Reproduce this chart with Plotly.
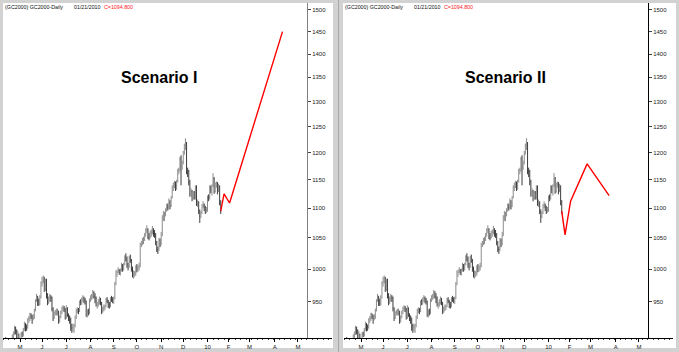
import plotly.graph_objects as go
import math

# ---------------- data ----------------
# trading-day index (0 = 1 May 2009); bars run 14 Apr 2009 .. 21 Jan 2010
first_day = -13
bar_open = [896,893,886,870,868,887,888,900,904,912,908,893,903,
 884,888,904,903,910,918,914,913,924,926,932,929,926,928,938,952,958,951,948,957,
 978,981,986,969,982,960,951,955,957,956,940,927,934,934,935,936,921,928,935,940,941,939,
 927,941,931,928,923,915,912,913,915,927,937,938,937,951,950,954,955,953,951,931,936,934,
 952,956,959,964,958,956,946,947,949,954,949,937,940,943,944,953,951,946,945,956,955,
 953,955,977,995,995,998,995,998,1006,1000,1007,1019,1015,1008,1004,1018,1013,1001,991,992,994,
 1003,1001,1003,1004,1039,1041,1048,1049,1056,1063,1064,1051,1051,1059,1060,1062,1058,1056,1042,1031,1031,1046,
 1040,1055,1084,1090,1090,1096,1102,1101,1110,1104,1119,1136,1141,1143,1138,1147,1166,1167,1188,1175,
 1181,1201,1213,1218,1166,1165,1146,1125,1129,1118,1127,1118,1137,1108,1109,1095,1086,1092,1105,1105,1102,1095,
 1096,1120,1118,1137,1133,1138,1152,1129,1143,1143,1131,1139,1109]
bar_high = [899,896,890,875,889,894,903,907,915,914,910,908,904,
 891,906,907,912,921,919,917,926,929,934,933,931,932,940,954,962,959,955,960,981,
 988,990,988,985,985,963,958,962,960,958,942,936,938,940,940,937,930,937,943,945,944,941,
 945,942,933,930,927,918,918,918,930,940,942,941,952,954,957,960,958,956,952,939,940,955,
 960,962,968,966,963,958,950,954,958,956,950,943,946,946,956,957,953,950,957,959,957,
 958,980,998,999,1003,1000,1001,1010,1008,1010,1022,1025,1020,1010,1021,1023,1016,1004,998,997,1006,
 1008,1006,1010,1042,1045,1050,1052,1058,1066,1071,1066,1058,1062,1064,1070,1066,1063,1058,1045,1036,1050,1049,
 1060,1088,1095,1094,1100,1108,1108,1117,1114,1121,1140,1145,1148,1147,1150,1170,1172,1192,1195,1185,
 1203,1217,1227,1220,1172,1168,1150,1135,1132,1130,1130,1140,1140,1115,1112,1098,1095,1107,1112,1108,1104,1102,
 1122,1124,1140,1140,1142,1162,1155,1145,1147,1146,1143,1140,1114]
bar_low = [887,880,866,864,866,880,885,896,902,903,888,891,882,
 880,885,899,900,908,907,908,911,919,922,925,918,923,925,936,950,944,944,945,955,
 973,978,965,966,955,945,947,950,950,936,922,925,930,930,930,918,920,926,932,936,935,924,
 925,928,922,918,908,905,907,905,913,925,933,932,935,945,946,950,948,946,928,927,930,932,
 950,953,955,955,948,943,940,943,946,945,932,934,936,938,942,948,941,940,942,950,948,
 947,954,975,988,994,991,990,996,996,998,1006,1012,1002,998,1002,1010,996,987,985,988,990,
 995,996,998,1003,1035,1038,1040,1045,1052,1058,1048,1046,1049,1052,1056,1052,1050,1038,1027,1024,1029,1035,
 1038,1053,1078,1078,1086,1094,1096,1098,1098,1102,1117,1130,1135,1130,1132,1145,1160,1165,1140,1168,
 1178,1196,1205,1160,1155,1140,1120,1120,1112,1114,1115,1115,1104,1102,1090,1075,1083,1090,1100,1095,1090,1092,
 1094,1112,1115,1126,1122,1137,1125,1127,1136,1124,1128,1105,1090]
bar_close = [893,886,870,868,887,888,900,904,912,908,893,903,884,
 888,904,903,910,918,914,913,924,926,932,929,926,928,938,952,958,951,948,957,978,
 981,986,969,982,960,951,955,957,956,940,927,934,934,935,936,921,928,935,940,941,939,927,
 941,931,928,923,915,912,913,915,927,937,938,937,951,950,954,955,953,951,931,936,934,952,
 956,959,964,958,956,946,947,949,954,949,937,940,943,944,953,951,946,945,956,955,953,
 955,977,995,995,998,995,998,1006,1000,1007,1019,1015,1008,1004,1018,1013,1001,991,992,994,1003,
 1001,1003,1004,1039,1041,1048,1049,1056,1063,1064,1051,1051,1059,1060,1062,1058,1056,1042,1031,1031,1046,1040,
 1055,1084,1090,1090,1096,1102,1101,1110,1104,1119,1136,1141,1143,1138,1147,1166,1167,1188,1175,1181,
 1201,1213,1218,1166,1165,1146,1125,1129,1118,1127,1118,1137,1108,1109,1095,1086,1092,1105,1105,1102,1095,1096,
 1120,1118,1137,1133,1138,1152,1129,1143,1143,1131,1139,1109,1094.8]
bar_day = list(range(first_day, first_day + len(bar_close)))

# projected paths (trading-day index, price)
scen1_day = [182, 185, 190, 238]
scen1_price = [1094.8, 1125, 1109, 1450]
scen2_day = [182, 185, 190, 205, 225]
scen2_price = [1094.8, 1055, 1112, 1179, 1122]

month_day = [0, 20, 42, 64, 85, 106, 128, 148, 170, 189, 208, 231, 252]
month_label = ["M", "J", "J", "A", "S", "O", "N", "D", "10", "F", "M", "A", "M"]
price_ticks = [950, 1000, 1050, 1100, 1150, 1200, 1250, 1300, 1350, 1400, 1450, 1500]

# ---------------- figure ----------------
W, H = 679, 352
fig = go.Figure()

for k, (xa, ya, pd_, pp) in enumerate([("x", "y", scen1_day, scen1_price),
                                        ("x2", "y2", scen2_day, scen2_price)]):
    fig.add_trace(go.Ohlc(x=bar_day, open=bar_open, high=bar_high, low=bar_low, close=bar_close,
                          xaxis=xa, yaxis=ya, showlegend=False, tickwidth=0.2,
                          increasing=dict(line=dict(color="#8c8c8c", width=1)),
                          decreasing=dict(line=dict(color="#3c3c3c", width=1)),
                          hoverinfo="skip"))
    fig.add_trace(go.Scatter(x=pd_, y=pp, mode="lines", xaxis=xa, yaxis=ya,
                             line=dict(color="#ff0000", width=1.4), showlegend=False,
                             hoverinfo="skip"))

def px(v):
    return v / W

def py(v):
    return 1 - v / H

xr = [-15.41, 282.87]
yr = [math.log10(897.8), math.log10(1516.5)]
tickfont = dict(family="Arial", size=6, color="#222")

def xaxis(dom, yname):
    return dict(domain=dom, range=xr, anchor=yname, showline=True, linecolor="black",
                linewidth=1, showgrid=False, zeroline=False, tickvals=month_day,
                ticktext=month_label, ticks="outside", ticklen=3, tickcolor="black",
                tickfont=tickfont, rangeslider=dict(visible=False), fixedrange=True,
                minor=dict(ticks="outside", ticklen=1, dtick=5, tickcolor="#444"))

def yaxis(pos, lc):
    return dict(domain=[py(338), py(3)], type="log", range=yr, anchor="free", position=pos,
                side="right", showline=True, linecolor=lc, linewidth=1, showgrid=False,
                zeroline=False, tickvals=price_ticks, ticktext=[str(v) for v in price_ticks],
                ticks="outside", ticklen=3, tickcolor="#444", tickfont=tickfont)

shapes = []
gray = "#d2d2d2"
# white panels
for x0, x1 in [(3, 333), (343, 676)]:
    shapes.append(dict(type="rect", xref="paper", yref="paper", x0=px(x0), x1=px(x1),
                       y0=py(348), y1=py(3), fillcolor="white", line=dict(width=0), layer="below"))
shapes.append(dict(type="line", xref="paper", yref="paper", x0=px(338.5), x1=px(338.5),
                   y0=0, y1=1, line=dict(color="#a8a8a8", width=1), layer="below"))

annotations = [
    dict(text="<b>Scenario I</b>", x=px(159), y=py(78), xref="paper", yref="paper",
         xanchor="center", yanchor="middle",
         showarrow=False, font=dict(family="Arial", size=16, color="black")),
    dict(text="<b>Scenario II</b>", x=px(505), y=py(77), xref="paper", yref="paper",
         xanchor="center", yanchor="middle",
         showarrow=False, font=dict(family="Arial", size=16, color="black")),
]
hdr = dict(family="Arial", size=5.3, color="#111")
for off in [0, 340]:
    annotations += [
        dict(text="(GC2000) GC2000-Daily", x=px(3 + off), y=py(7), xref="paper", yref="paper",
             xanchor="left", yanchor="middle", showarrow=False, font=hdr),
        dict(text="01/21/2010", x=px(72 + off), y=py(7), xref="paper", yref="paper",
             xanchor="left", yanchor="middle", showarrow=False, font=hdr),
        dict(text="C=1094.800", x=px(102 + off), y=py(7), xref="paper", yref="paper",
             xanchor="left", yanchor="middle", showarrow=False,
             font=dict(family="Arial", size=5.3, color="#ff2020")),
    ]

fig.update_layout(
    width=W, height=H, margin=dict(l=0, r=0, t=0, b=0),
    paper_bgcolor=gray, plot_bgcolor="white",
    xaxis=xaxis([px(3), px(332)], "y"),
    xaxis2=xaxis([px(344), px(673)], "y2"),
    yaxis=yaxis(px(307), "#808080"),
    yaxis2=yaxis(px(648), "black"),
    shapes=shapes, annotations=annotations, showlegend=False,
)

fig.write_html("out.html", config=dict(displayModeBar=False))
